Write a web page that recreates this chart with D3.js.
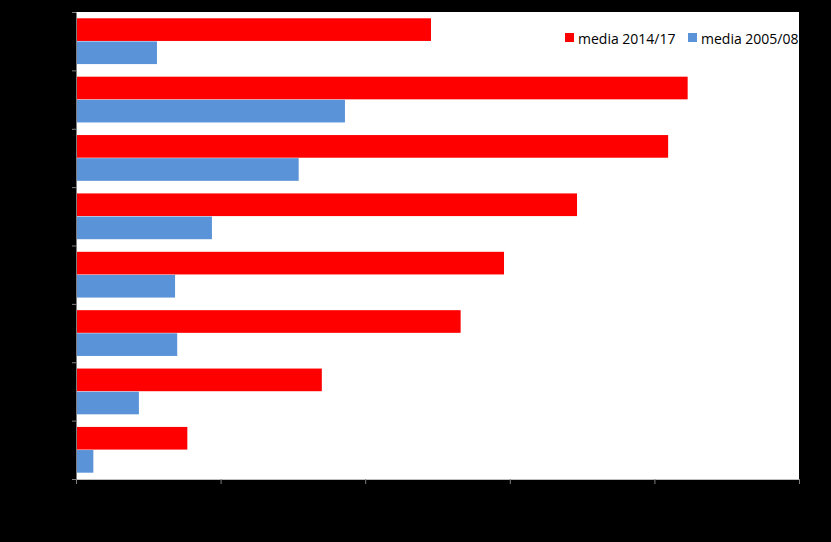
<!DOCTYPE html>
<html><head><meta charset="utf-8">
<script src="https://cdn.jsdelivr.net/npm/d3@7"></script>
<style>html,body{margin:0;padding:0;background:#000;}svg{display:block;}</style>
</head><body>
<script>
const categories = ["1","2","3","4","5","6","7","8"];
const recent = [49.1, 84.6, 81.9, 69.3, 59.2, 53.2, 34.0, 15.4];
const older = [11.2, 37.2, 30.8, 18.8, 13.7, 14.0, 8.7, 2.4];
const seriesNames = ["media 2014/17", "media 2005/08"];
const seriesColors = ["#ff0000", "#5b93d8"];
const xTicks = [0, 20, 40, 60, 80, 100];

const W = 831, H = 542;
const m = {l: 76, r: 32, t: 12, b: 63};
const svg = d3.select("body").append("svg").attr("width", W).attr("height", H);
svg.append("rect").attr("width", W).attr("height", H).attr("fill", "#000");
svg.append("rect").attr("x", m.l).attr("y", m.t).attr("width", W - m.l - m.r).attr("height", H - m.t - m.b).attr("fill", "#fff");

const x = d3.scaleLinear().domain([0, 100]).range([m.l, W - m.r]);
const y = d3.scaleBand().domain(categories).range([m.t, H - m.b]).paddingInner(0.2).paddingOuter(0.1);
const y1 = d3.scaleBand().domain([0, 1]).range([0, y.bandwidth()]).padding(0.02);

const data = categories.map((c, i) => ({c, vals: [recent[i], older[i]]}));
const g = svg.append("g");
data.forEach(d => {
  d.vals.forEach((v, k) => {
    g.append("rect").attr("x", x(0)).attr("y", y(d.c) + y1(k))
      .attr("width", x(v) - x(0)).attr("height", y1.bandwidth())
      .attr("fill", seriesColors[k]);
  });
});

// x axis
const xa = svg.append("g").attr("transform", `translate(0,${H - m.b})`)
  .call(d3.axisBottom(x).tickValues(xTicks).tickSize(5).tickSizeOuter(0).tickFormat(d3.format("d")));
xa.select(".domain").attr("stroke", "#bfbfbf");
xa.selectAll(".tick line").attr("stroke", "#7f7f7f");
xa.selectAll("text").attr("fill", "#000").style("font-family", "Open Sans").style("font-size", "12px");

// y axis (tick marks at band boundaries)
const yb = d3.scaleLinear().domain([0, categories.length]).range([m.t, H - m.b]);
const ya = svg.append("g").attr("transform", `translate(${m.l},0)`)
  .call(d3.axisLeft(yb).ticks(categories.length).tickSize(4).tickSizeOuter(0).tickFormat(""));
ya.select(".domain").attr("stroke", "#7f7f7f");
ya.selectAll(".tick line").attr("stroke", "#7f7f7f");

// legend
const leg = svg.append("g").style("font-family", "Open Sans").style("font-size", "14px");
const legX = [565, 688];
seriesNames.forEach((n, k) => {
  leg.append("rect").attr("x", legX[k]).attr("y", 33).attr("width", 9).attr("height", 9).attr("fill", seriesColors[k]);
  leg.append("text").attr("x", legX[k] + 13).attr("y", 43.5).attr("fill", "#000").text(n);
});
</script>
</body></html>
